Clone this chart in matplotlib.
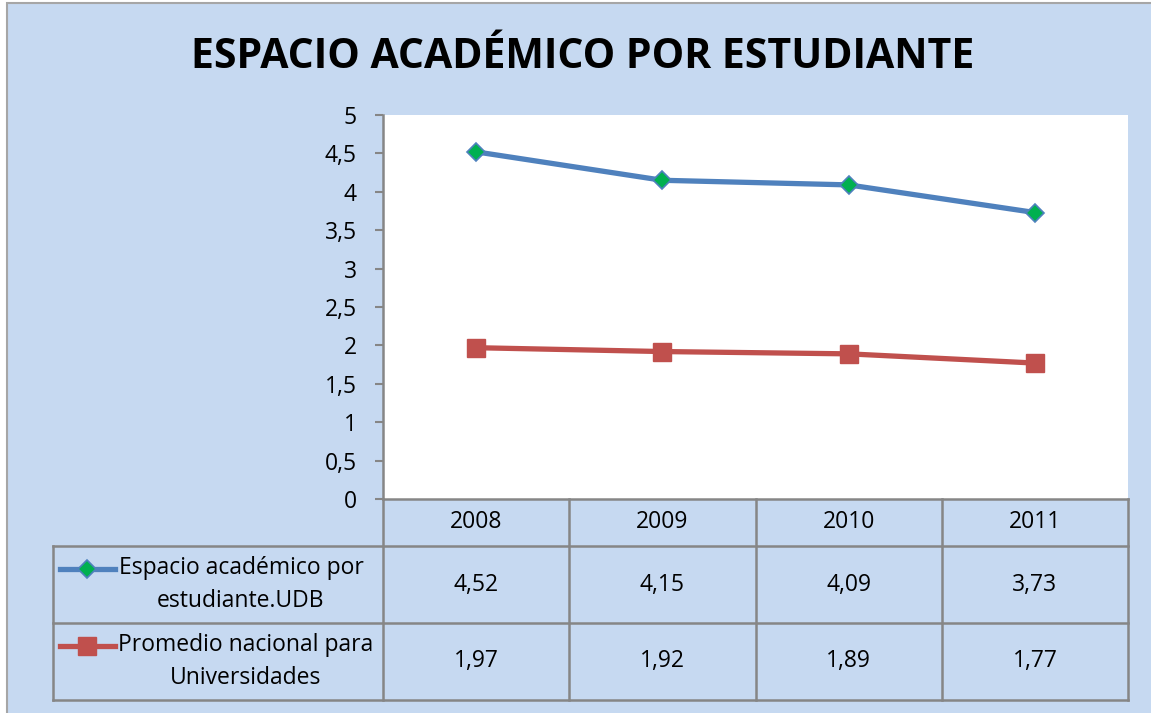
import numpy as np
import matplotlib
matplotlib.use('Agg')
import matplotlib.pyplot as plt
from matplotlib.patches import Rectangle
from matplotlib.lines import Line2D

# data
years = ['2008', '2009', '2010', '2011']
udb = [4.52, 4.15, 4.09, 3.73]
nacional = [1.97, 1.92, 1.89, 1.77]
series_names = ['Espacio académico por\nestudiante.UDB', 'Promedio nacional para\nUniversidades']
yticks = [0, 0.5, 1, 1.5, 2, 2.5, 3, 3.5, 4, 4.5, 5]

W, H = 1151, 713
BG = '#C6D9F1'
GRID = '#868686'
BLUE = '#4F81BD'
RED = '#C0504D'
GREEN = '#00B050'
FS = 16.5

plt.rcParams['font.family'] = ['Open Sans', 'DejaVu Sans']

def fx(px):
    return px / W

def fy(py):
    return 1 - py / H

fig = plt.figure(figsize=(W / 100, H / 100), dpi=100, facecolor='white')
fig.patches.append(Rectangle((fx(7), fy(H + 10)), 1.2, fy(3) - fy(H + 10),
                             transform=fig.transFigure, facecolor=BG,
                             edgecolor='#A6A6A6', linewidth=1.5, zorder=-5))

x0, x1, ytop, ybot = 383, 1128, 115, 499
ax = fig.add_axes([fx(x0), fy(ybot), fx(x1 - x0), fy(ytop) - fy(ybot)])
ax.set_facecolor('white')
xs = np.arange(len(years))
udb_style = dict(color=BLUE, lw=3.8, marker='D', ms=9, mfc=GREEN, mec=BLUE, mew=1.2)
nac_style = dict(color=RED, lw=3.8, marker='s', ms=13, mfc=RED, mec=RED)
ax.plot(xs, udb, zorder=3, clip_on=False, **udb_style)
ax.plot(xs, nacional, zorder=3, clip_on=False, **nac_style)
ax.set_xlim(-0.5, len(years) - 0.5)
ax.set_ylim(0, 5)
ax.set_yticks(yticks)
ax.set_yticklabels([f'{t:g}'.replace('.', ',') for t in yticks], fontsize=FS)
ax.set_xticks([])
for s in ['top', 'right', 'bottom']:
    ax.spines[s].set_visible(False)
ax.spines['left'].set_color(GRID)
ax.spines['left'].set_linewidth(1.8)
ax.tick_params(axis='y', direction='out', length=6, width=1.5, color=GRID, pad=13, labelcolor='black')

fig.text(0.506, fy(57), 'ESPACIO ACADÉMICO POR ESTUDIANTE', ha='center', va='center',
         fontsize=29.5, fontweight='bold')

# data table below the plot
rows = [499, 546, 623, 700]
col_w = (x1 - x0) / len(years)
cols = [x0 + i * col_w for i in range(len(years) + 1)]
lkw = dict(color=GRID, lw=1.8, transform=fig.transFigure, zorder=2)
fig.add_artist(Line2D([fx(x0), fx(x1)], [fy(rows[0])] * 2, **lkw))
for r in rows[1:]:
    fig.add_artist(Line2D([fx(53), fx(x1)], [fy(r)] * 2, **lkw))
for c in cols:
    fig.add_artist(Line2D([fx(c)] * 2, [fy(rows[0]), fy(rows[-1])], **lkw))
fig.add_artist(Line2D([fx(53)] * 2, [fy(rows[1]), fy(rows[-1])], **lkw))

for i, yr in enumerate(years):
    cx = fx(cols[i] + col_w / 2)
    fig.text(cx, fy((rows[0] + rows[1]) / 2), yr, ha='center', va='center', fontsize=FS)
    fig.text(cx, fy((rows[1] + rows[2]) / 2), f'{udb[i]:.2f}'.replace('.', ','),
             ha='center', va='center', fontsize=FS)
    fig.text(cx, fy((rows[2] + rows[3]) / 2), f'{nacional[i]:.2f}'.replace('.', ','),
             ha='center', va='center', fontsize=FS)

# legend keys and series names
text_cx = [241, 246]
for k, (name, st) in enumerate(zip(series_names, [udb_style, nac_style])):
    rc = (rows[k + 1] + rows[k + 2]) / 2
    fig.text(fx(text_cx[k]), fy(rc), name, ha='center', va='center',
             multialignment='center', fontsize=FS, linespacing=1.45)
    fig.add_artist(Line2D([fx(60), fx(87), fx(115)], [fy(rc - 16)] * 3, markevery=[1],
                          transform=fig.transFigure, zorder=3, **st))

fig.savefig('out.png', dpi=100, facecolor=fig.get_facecolor())
